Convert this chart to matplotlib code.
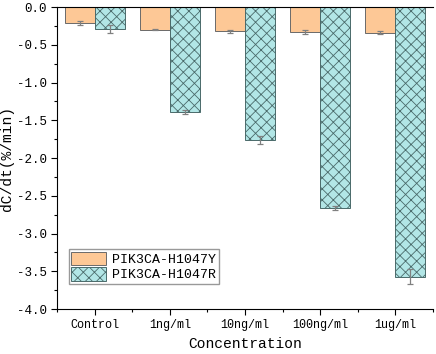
import numpy as np
import matplotlib
matplotlib.use("Agg")
import matplotlib.pyplot as plt
from matplotlib.ticker import MultipleLocator

plt.rcParams["font.family"] = ["Liberation Mono", "DejaVu Sans"]
plt.rcParams["hatch.linewidth"] = 0.6
plt.rcParams["hatch.color"] = "#3a4a4a"

categories = ["Control", "1ng/ml", "10ng/ml", "100ng/ml", "1ug/ml"]
y1047_mean = [-0.21, -0.30, -0.32, -0.33, -0.34]
y1047_err = [0.03, 0.01, 0.02, 0.02, 0.02]
r1047_mean = [-0.29, -1.39, -1.76, -2.66, -3.57]
r1047_err = [0.05, 0.03, 0.05, 0.03, 0.10]

x = np.arange(1, len(categories) + 1)
w = 0.4

fig = plt.figure(figsize=(4.36, 3.54), dpi=100)
ax = fig.add_axes([0.131, 0.127, 0.862, 0.853])

err_kw = dict(ecolor="#808080", elinewidth=0.9, capsize=2.5, capthick=0.9)
ax.bar(x - w / 2, y1047_mean, w, yerr=y1047_err, color="#fdc896",
       edgecolor="#6a6a6a", linewidth=0.7, error_kw=err_kw,
       label="PIK3CA-H1047Y")
ax.bar(x + w / 2, r1047_mean, w, yerr=r1047_err, color="#b2e6e6",
       edgecolor="#4a6a6a", linewidth=0.7, hatch="xxx", error_kw=err_kw,
       label="PIK3CA-H1047R")

ax.set_xlim(0.5, 5.5)
ax.set_ylim(-4.0, 0.0)
ax.set_xticks(x)
ax.set_xticklabels(categories, fontsize=8.5)
ax.xaxis.set_minor_locator(MultipleLocator(0.5))
ax.yaxis.set_major_locator(MultipleLocator(0.5))
ax.yaxis.set_minor_locator(MultipleLocator(0.25))
ax.set_yticklabels([f"{v:.1f}" for v in ax.get_yticks()], fontsize=9)
ax.tick_params(which="major", length=4, width=0.8)
ax.tick_params(which="minor", length=2.5, width=0.8)
ax.spines["right"].set_visible(False)

ax.set_xlabel("Concentration", fontsize=10.5, labelpad=4)
ax.set_ylabel("dC/dt(%/min)", fontsize=10.5, labelpad=2)

ax.legend(loc="lower left", bbox_to_anchor=(0.02, 0.07), fontsize=9.5,
          frameon=True, fancybox=False, edgecolor="#808080",
          handlelength=2.6, handleheight=1.2, borderpad=0.2,
          labelspacing=0.1, handletextpad=0.5, borderaxespad=0.3)

fig.savefig("out.png", dpi=100)
